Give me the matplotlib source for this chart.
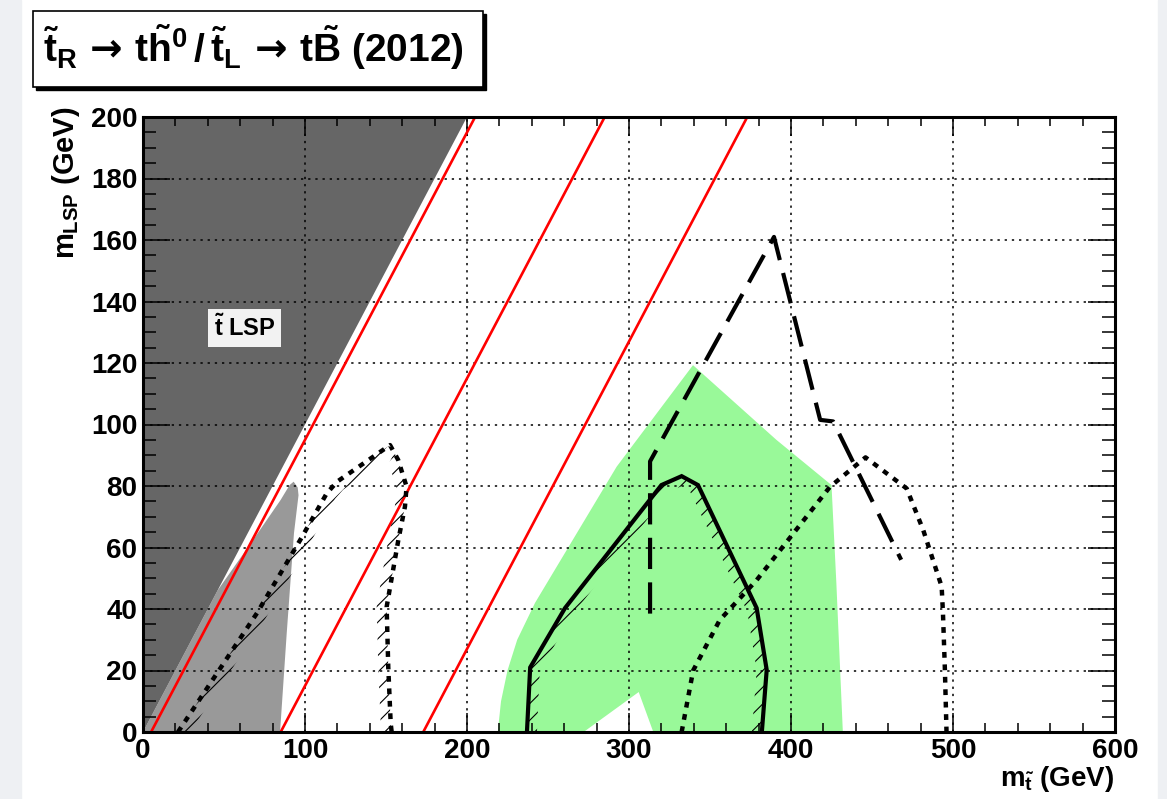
import matplotlib
matplotlib.use('Agg')
import matplotlib.pyplot as plt
import numpy as np
from matplotlib.patches import Rectangle
from matplotlib.ticker import MultipleLocator

plt.rcParams['font.family'] = ['Liberation Sans', 'DejaVu Sans']
plt.rcParams['font.weight'] = 'bold'
plt.rcParams['mathtext.fontset'] = 'custom'
plt.rcParams['mathtext.rm'] = 'Liberation Sans:bold'
plt.rcParams['mathtext.it'] = 'Liberation Sans:bold'
plt.rcParams['mathtext.bf'] = 'Liberation Sans:bold'
plt.rcParams['mathtext.sf'] = 'DejaVu Sans'
plt.rcParams['hatch.linewidth'] = 0.8

# stop LSP region (m_LSP > m_stop)
lsp_x = [0, 200, 0]
lsp_y = [0, 200, 200]

# light gray region at low mass
gray_x = [0, 46, 68, 85, 90.5, 93, 95.5, 96, 93.2, 88.7, 84.6]
gray_y = [0, 46, 62.5, 75.5, 80.3, 81.4, 79.5, 77, 64.7, 32, 0]

# green expected band
green_x = [219, 221, 225, 231, 242, 292.4, 339.5, 391, 425, 428, 432, 315, 306, 272]
green_y = [0, 10, 20, 30, 42, 86.3, 119.3, 95, 80.3, 48.4, 0, 0, 13, 0]

# kinematic lines m_stop - m_LSP = const
delta_m = [5, 85, 173]

# solid observed contour
obs_x = [237, 239, 260.5, 320, 332.5, 342.6, 378.8, 385, 382]
obs_y = [0, 21, 40.3, 80.3, 83.2, 80.3, 40.3, 20.2, 0]

# dotted contour, low mass
dot1_x = [21.6, 70.4, 97, 113.4, 119.8, 152.5, 157.5, 162.7, 161.7, 157.6, 150.4, 151.4, 152.9, 153.5]
dot1_y = [0, 38.7, 62.4, 77.6, 81.4, 93.3, 88.5, 79.8, 73.3, 62.4, 40.7, 21, 2.8, 0]

# dotted contour, high mass
dot2_x = [332.5, 339.6, 356, 378.8, 424, 446, 471.4, 481.6, 493, 493.8, 495, 496]
dot2_y = [0, 20, 36.4, 49.4, 79.7, 89.3, 79.2, 65.7, 47.3, 38.7, 20.2, 0]

# dashed contour
dash_x = [313, 313, 389.5, 418, 426, 468]
dash_y = [38.5, 88, 161, 101.5, 101, 56]

W, H = 1167, 799
fig = plt.figure(figsize=(W / 100, H / 100), dpi=100)
fig.patch.set_facecolor('white')
fig.add_artist(Rectangle((0, 0), 21 / W, 1, transform=fig.transFigure,
                         color='#eef0f3', zorder=-5))
fig.add_artist(Rectangle((1158 / W, 0), 1, 1, transform=fig.transFigure,
                         color='#eef0f3', zorder=-5))

ax = fig.add_axes([143 / W, 1 - 732 / H, 972 / W, 615 / H])
ax.set_xlim(0, 600)
ax.set_ylim(0, 200)

ax.fill(green_x, green_y, color='#99f999', lw=0, zorder=1)
ax.fill(gray_x, gray_y, color='#999999', lw=0, zorder=1.1)
ax.fill(lsp_x, lsp_y, color='#666666', lw=0, zorder=1.2)

for d in delta_m:
    ax.plot([d, d + 220], [0, 220], color='red', lw=1.9, zorder=3)


def hatch_band(xs, ys, width_px=10):
    """Hatched strip on the inner side of a contour."""
    pts = ax.transData.transform(np.column_stack([xs, ys]))
    t = np.gradient(pts, axis=0)
    n = np.column_stack([t[:, 1], -t[:, 0]])
    n /= np.linalg.norm(n, axis=1)[:, None]
    inner = pts + n * width_px
    poly = ax.transData.inverted().transform(np.vstack([pts, inner[::-1]]))
    ax.fill(poly[:, 0], poly[:, 1], facecolor='none', edgecolor='black',
            hatch='//', lw=0, zorder=3.5)


hatch_band(obs_x, obs_y)
hatch_band(dot1_x, dot1_y)

ax.plot(obs_x, obs_y, color='black', lw=3, zorder=4, solid_joinstyle='miter')
ax.plot(dot1_x, dot1_y, color='black', lw=3.2, ls=(0, (1.3, 1.5)),
        dash_capstyle='butt', zorder=4)
ax.plot(dot2_x, dot2_y, color='black', lw=3.2, ls=(0, (1.3, 1.5)),
        dash_capstyle='butt', zorder=4)
ax.plot(dash_x, dash_y, color='black', lw=3, ls=(0, (7.5, 3.2)),
        dash_capstyle='butt', zorder=4)

ax.text(62.6, 131.5, r'$\tilde{t}$ LSP', fontsize=17, ha='center', va='center',
        zorder=5, bbox=dict(boxstyle='square,pad=0.25', fc='#f2f2f2', ec='none'))

ax.set_axisbelow(False)
ax.grid(True, which='major', color='black', ls=(0, (1.5, 3.2)), lw=1.1)
ax.xaxis.set_major_locator(MultipleLocator(100))
ax.xaxis.set_minor_locator(MultipleLocator(20))
ax.yaxis.set_major_locator(MultipleLocator(20))
ax.yaxis.set_minor_locator(MultipleLocator(5))
ax.tick_params(which='both', direction='in', top=True, right=True,
               width=1.1, labelsize=20, pad=4)
ax.tick_params(axis='x', which='major', length=14)
ax.tick_params(axis='x', which='minor', length=6.5)
ax.tick_params(axis='y', which='major', length=19.5)
ax.tick_params(axis='y', which='minor', length=9.4)
for s in ax.spines.values():
    s.set_linewidth(2.2)
    s.set_zorder(6)

fig.text(66 / W, 1 - 106 / H, r'$m_{LSP}$ (GeV)', rotation=90,
         ha='center', va='top', fontsize=21)
fig.text(1114 / W, 1 - 786 / H, r'$m_{\tilde{t}}$ (GeV)',
         ha='right', va='baseline', fontsize=20)

# title box with drop shadow
fig.add_artist(Rectangle((36 / W, 1 - 90 / H), 450 / W, 76 / H,
                         transform=fig.transFigure, color='black', zorder=8))
fig.add_artist(Rectangle((33 / W, 1 - 87 / H), 450 / W, 76 / H,
                         transform=fig.transFigure, fc='white', ec='black',
                         lw=1.2, zorder=9))
fig.text(43 / W, 1 - 62 / H,
         r'$\tilde{t}_{R}\,\mathsf{\rightarrow}\,t\tilde{h}^{0}\,/\,\tilde{t}_{L}\,\mathsf{\rightarrow}\,t\tilde{B}$ (2012)',
         fontsize=28, ha='left', va='baseline', zorder=10)

fig.savefig('out.png', dpi=100)
